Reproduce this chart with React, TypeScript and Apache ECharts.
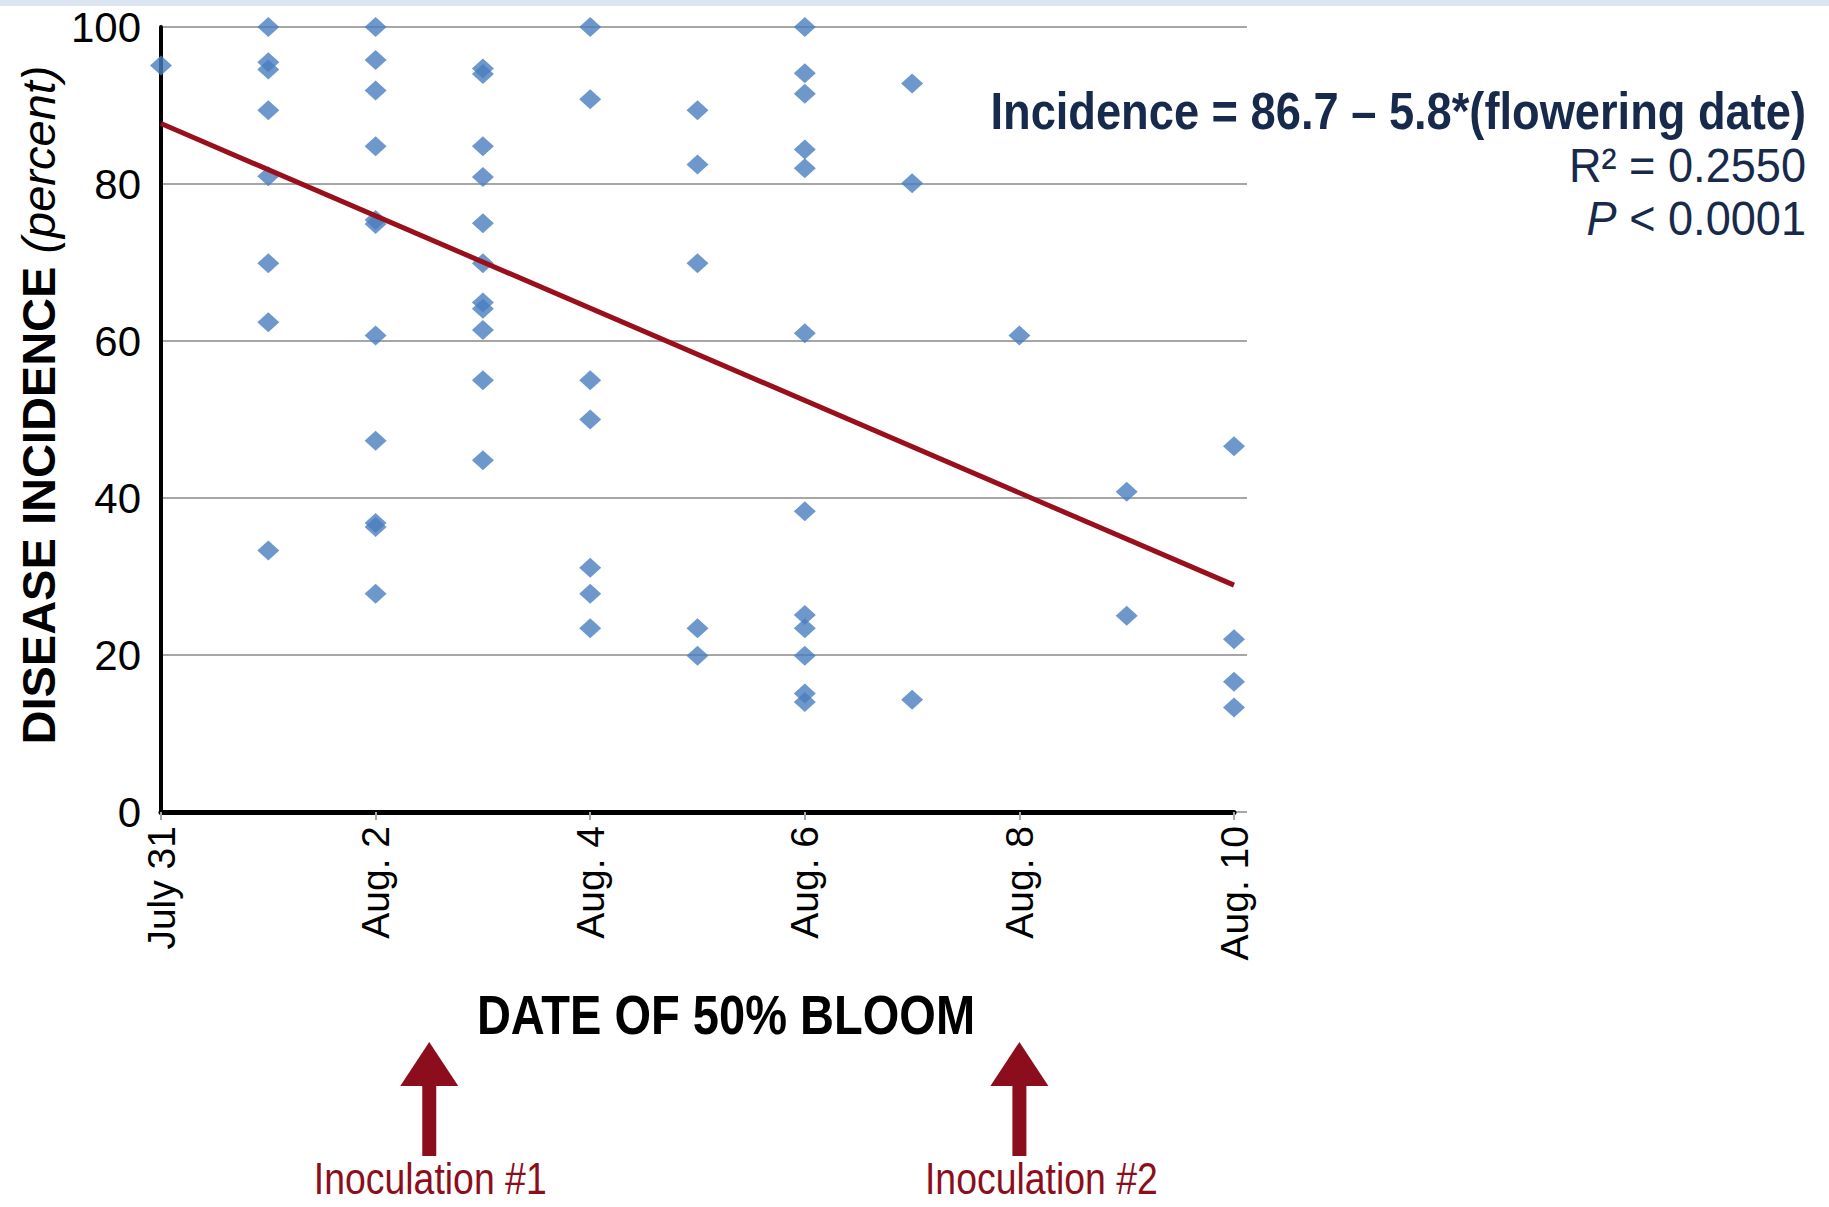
import React, { useEffect, useRef } from "react";
import * as echarts from "echarts";

// ---- data ----
const tickLabels = ["July 31", "Aug. 2", "Aug. 4", "Aug. 6", "Aug. 8", "Aug. 10"];
const yTicks = [0, 20, 40, 60, 80, 100];
const dayJul31 = [95.1];
const dayAug1 = [100, 95.5, 94.6, 89.4, 81.0, 69.9, 62.4, 33.3];
const dayAug2 = [100, 95.8, 91.9, 84.8, 75.4, 74.9, 60.7, 47.3, 36.8, 36.3, 27.8];
const dayAug3 = [94.7, 94.0, 84.8, 80.9, 75.0, 69.9, 64.9, 64.1, 61.4, 55.0, 44.8];
const dayAug4 = [100, 90.8, 55.0, 50.0, 31.1, 27.8, 23.4];
const dayAug5 = [89.4, 82.5, 69.9, 23.4, 19.9];
const dayAug6 = [100, 94.1, 91.5, 84.4, 82.0, 61.0, 38.3, 25.1, 23.4, 19.9, 15.1, 14.0];
const dayAug7 = [92.8, 80.1, 14.3];
const dayAug8 = [60.7];
const dayAug9 = [40.8, 25.0];
const dayAug10 = [46.6, 22.0, 16.6, 13.3];
const incidenceByDay = [
  dayJul31, dayAug1, dayAug2, dayAug3, dayAug4, dayAug5,
  dayAug6, dayAug7, dayAug8, dayAug9, dayAug10,
];
// trend line as drawn in the figure (endpoints)
const fitX = [0, 10];
const fitY = [87.7, 28.9];
const inoculationDays = [2.5, 8];
const inoculationLabels = ["Inoculation #1", "Inoculation #2"];

const NARROW = '"Liberation Sans Narrow", "Arial Narrow", "Liberation Sans", Arial, sans-serif';
const ARIAL = '"Liberation Sans", Arial, sans-serif';
const MAROON = "#8c0e1c";
const NAVY = "#172a4b";
const LABEL_SHIFT = [1, 22];

export default function App() {
  const ref = useRef<HTMLDivElement>(null);

  useEffect(() => {
    if (!ref.current) return;
    const chart = echarts.init(ref.current, undefined, { renderer: "svg" });

    const points: number[][] = [];
    incidenceByDay.forEach((vals, day) => vals.forEach((v) => points.push([day, v])));
    const fitLine = fitX.map((x, i) => [x, fitY[i]]);

    chart.setOption({
      animation: false,
      backgroundColor: "#ffffff",
      grid: { left: 161, top: 27, width: 1073, height: 785 },
      xAxis: {
        type: "value",
        min: 0,
        max: 10,
        interval: 2,
        axisLine: { show: true, onZero: false, lineStyle: { color: "#000", width: 5 } },
        axisTick: { show: true, length: 8, lineStyle: { color: "#a6a6a6", width: 2 } },
        splitLine: { show: false },
        axisLabel: {
          rotate: 90,
          margin: 14,
          fontFamily: ARIAL,
          fontSize: 39,
          color: "#000",
          formatter: (v: number) => tickLabels[Math.round(v / 2)] ?? "",
        },
      },
      yAxis: {
        type: "value",
        min: 0,
        max: 100,
        interval: 20,
        axisLine: { show: true, onZero: false, lineStyle: { color: "#000", width: 4 } },
        axisTick: { show: false },
        splitLine: { show: true, lineStyle: { color: "#a6a6a6", width: 2 } },
        axisLabel: { margin: 20, fontFamily: NARROW, fontSize: 42, color: "#000" },
      },
      series: [
        {
          type: "scatter",
          data: points,
          symbol: "diamond",
          symbolSize: [22, 20],
          itemStyle: { color: "#4a7ebf" },
          z: 3,
        },
        {
          type: "line",
          data: fitLine,
          symbol: "none",
          lineStyle: { color: "#990f1c", width: 5 },
          z: 4,
        },
      ],
    });

    const right = chart.convertToPixel({ xAxisIndex: 0 }, 10) as number;

    const graphics: any[] = [
      { type: "rect", shape: { x: 0, y: 0, width: 1829, height: 6 }, style: { fill: "#dce6f2" } },
      {
        type: "text",
        x: 38,
        y: 405,
        rotation: Math.PI / 2,
        style: {
          text: "{b|DISEASE INCIDENCE }{i|(percent)}",
          align: "center",
          verticalAlign: "middle",
          fill: "#000",
          rich: {
            b: { fontFamily: ARIAL, fontWeight: "bold", fontSize: 47, fill: "#000" },
            i: { fontFamily: ARIAL, fontStyle: "italic", fontSize: 47, fill: "#000" },
          },
        },
      },
      {
        type: "text",
        x: 726,
        y: 1015,
        scaleX: 0.84,
        style: {
          text: "DATE OF 50% BLOOM",
          align: "center",
          verticalAlign: "middle",
          fontFamily: NARROW,
          fontWeight: "bold",
          fontSize: 56,
          fill: "#000",
        },
      },
      {
        type: "text",
        x: 1806,
        y: 111,
        scaleX: 0.87,
        style: {
          text: "Incidence = 86.7 \u2013 5.8*(flowering date)",
          align: "right",
          verticalAlign: "middle",
          fontFamily: NARROW,
          fontWeight: "bold",
          fontSize: 52,
          fill: NAVY,
        },
      },
      {
        type: "text",
        x: 1806,
        y: 166,
        scaleX: 0.94,
        style: {
          text: "R\u00B2 = 0.2550",
          align: "right",
          verticalAlign: "middle",
          fontFamily: NARROW,
          fontSize: 48,
          fill: NAVY,
        },
      },
      {
        type: "text",
        x: 1806,
        y: 219,
        scaleX: 0.94,
        style: {
          text: "{i|P}{n| < 0.0001}",
          align: "right",
          verticalAlign: "middle",
          rich: {
            i: { fontFamily: NARROW, fontStyle: "italic", fontSize: 48, fill: NAVY },
            n: { fontFamily: NARROW, fontSize: 48, fill: NAVY },
          },
        },
      },
    ];

    // grid lines slightly extend past the last x tick, as in the original
    yTicks.forEach((t) => {
      const py = chart.convertToPixel({ yAxisIndex: 0 }, t) as number;
      graphics.push({
        type: "line",
        shape: { x1: right, y1: py, x2: right + 13, y2: py },
        style: { stroke: "#a6a6a6", lineWidth: 2 },
      });
    });

    inoculationDays.forEach((d, i) => {
      const px = chart.convertToPixel({ xAxisIndex: 0 }, d) as number;
      graphics.push({
        type: "polygon",
        shape: { points: [[px, 1042], [px - 29, 1086], [px + 29, 1086]] },
        style: { fill: MAROON },
      });
      graphics.push({
        type: "rect",
        shape: { x: px - 7, y: 1084, width: 14, height: 72 },
        style: { fill: MAROON },
      });
      graphics.push({
        type: "text",
        x: px + LABEL_SHIFT[i],
        y: 1179,
        scaleX: 0.85,
        style: {
          text: inoculationLabels[i],
          align: "center",
          verticalAlign: "middle",
          fontFamily: NARROW,
          fontSize: 44,
          fill: MAROON,
        },
      });
    });

    chart.setOption({ graphic: graphics });

    return () => chart.dispose();
  }, []);

  return (
    <div
      ref={ref}
      style={{ position: "absolute", left: 0, top: 0, width: 1829, height: 1207 }}
    />
  );
}
